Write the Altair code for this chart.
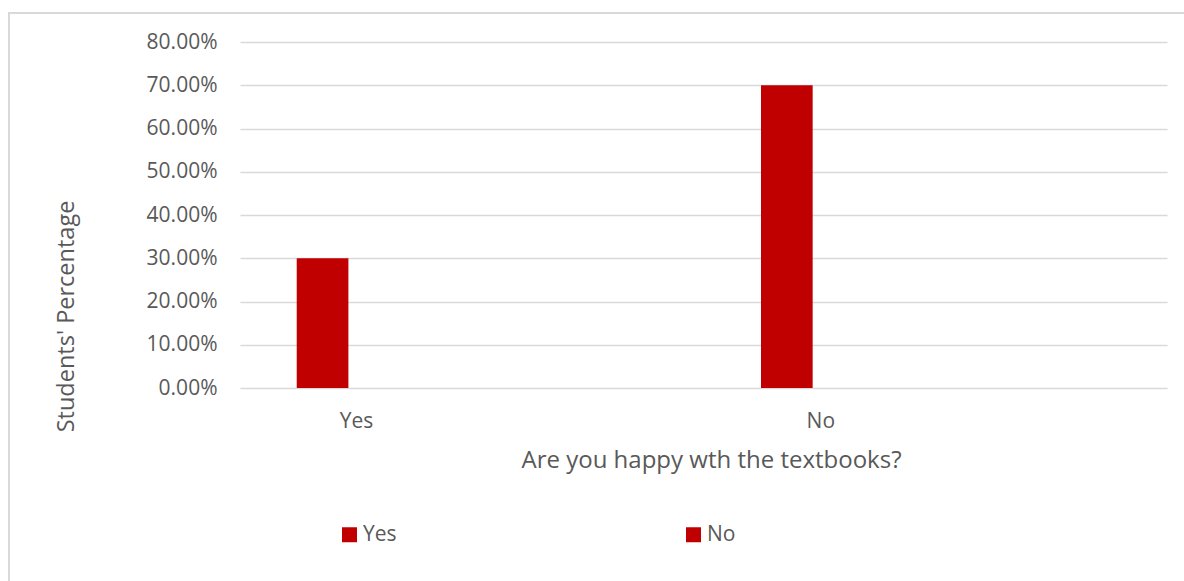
import altair as alt
import pandas as pd

categories = ["Yes", "No"]
values = [0.30, 0.70]
series = ["Yes", "No"]

df = pd.DataFrame({"answer": categories, "pct": values, "series": series})

FONT = "Open Sans"
TXT = "#595959"
RED = "#C00000"
GRID = "#D9D9D9"

bars = alt.Chart(df).mark_bar(color=RED).encode(
    x=alt.X(
        "answer:N",
        sort=categories,
        scale=alt.Scale(paddingInner=0.8887, paddingOuter=0.4427, align=0.138),
        axis=alt.Axis(
            title="Are you happy wth the textbooks?",
            labelAngle=0,
            labelOffset=34,
            labelPadding=22,
            ticks=False,
            domain=False,
            labelFontSize=21,
            titleFontSize=24,
            titleFontWeight="normal",
            titleX=471,
            titleY=79,
            titleBaseline="alphabetic",
            titleAlign="center",
        ),
    ),
    y=alt.Y(
        "pct:Q",
        scale=alt.Scale(domain=[0, 0.8], nice=False),
        axis=alt.Axis(
            title="Students' Percentage",
            format=".2%",
            values=[0, 0.1, 0.2, 0.3, 0.4, 0.5, 0.6, 0.7, 0.8],
            ticks=False,
            domain=False,
            labelPadding=23,
            labelFontSize=21,
            titleFontSize=23.5,
            titleFontWeight="normal",
            titleX=-167,
            titleY=274,
            titleAngle=-90,
            titleBaseline="alphabetic",
            titleAlign="center",
            gridColor=GRID,
            gridWidth=1.5,
        ),
    ),
    color=alt.Color(
        "series:N",
        sort=series,
        scale=alt.Scale(domain=series, range=[RED, RED]),
        legend=alt.Legend(
            title=None,
            orient="none",
            direction="horizontal",
            legendX=99,
            legendY=482,
            symbolType="square",
            symbolSize=225,
            symbolStrokeWidth=0,
            symbolOpacity=1,
            labelFontSize=21,
            labelOffset=3,
            columnPadding=286,
            padding=0,
        ),
    ),
)

border_top = alt.Chart(df).mark_rule(color=GRID, strokeWidth=2).encode(
    x=alt.value(-231), x2=alt.value(960), y=alt.value(-29)
)
border_left = alt.Chart(df).mark_rule(color=GRID, strokeWidth=2).encode(
    x=alt.value(-231), y=alt.value(-30), y2=alt.value(560)
)

chart = (
    alt.layer(border_top, border_left, bars)
    .properties(
        width=927,
        height=346,
        autosize=alt.AutoSizeParams(type="none"),
        padding={"left": 240, "top": 42, "right": 17, "bottom": 193},
        background="white",
    )
    .configure_view(stroke=None)
    .configure_axis(
        labelFont=FONT,
        titleFont=FONT,
        labelColor=TXT,
        titleColor=TXT,
    )
    .configure_legend(labelFont=FONT, labelColor=TXT)
)

chart.save("out.html", embed_options={"renderer": "svg", "actions": False})
